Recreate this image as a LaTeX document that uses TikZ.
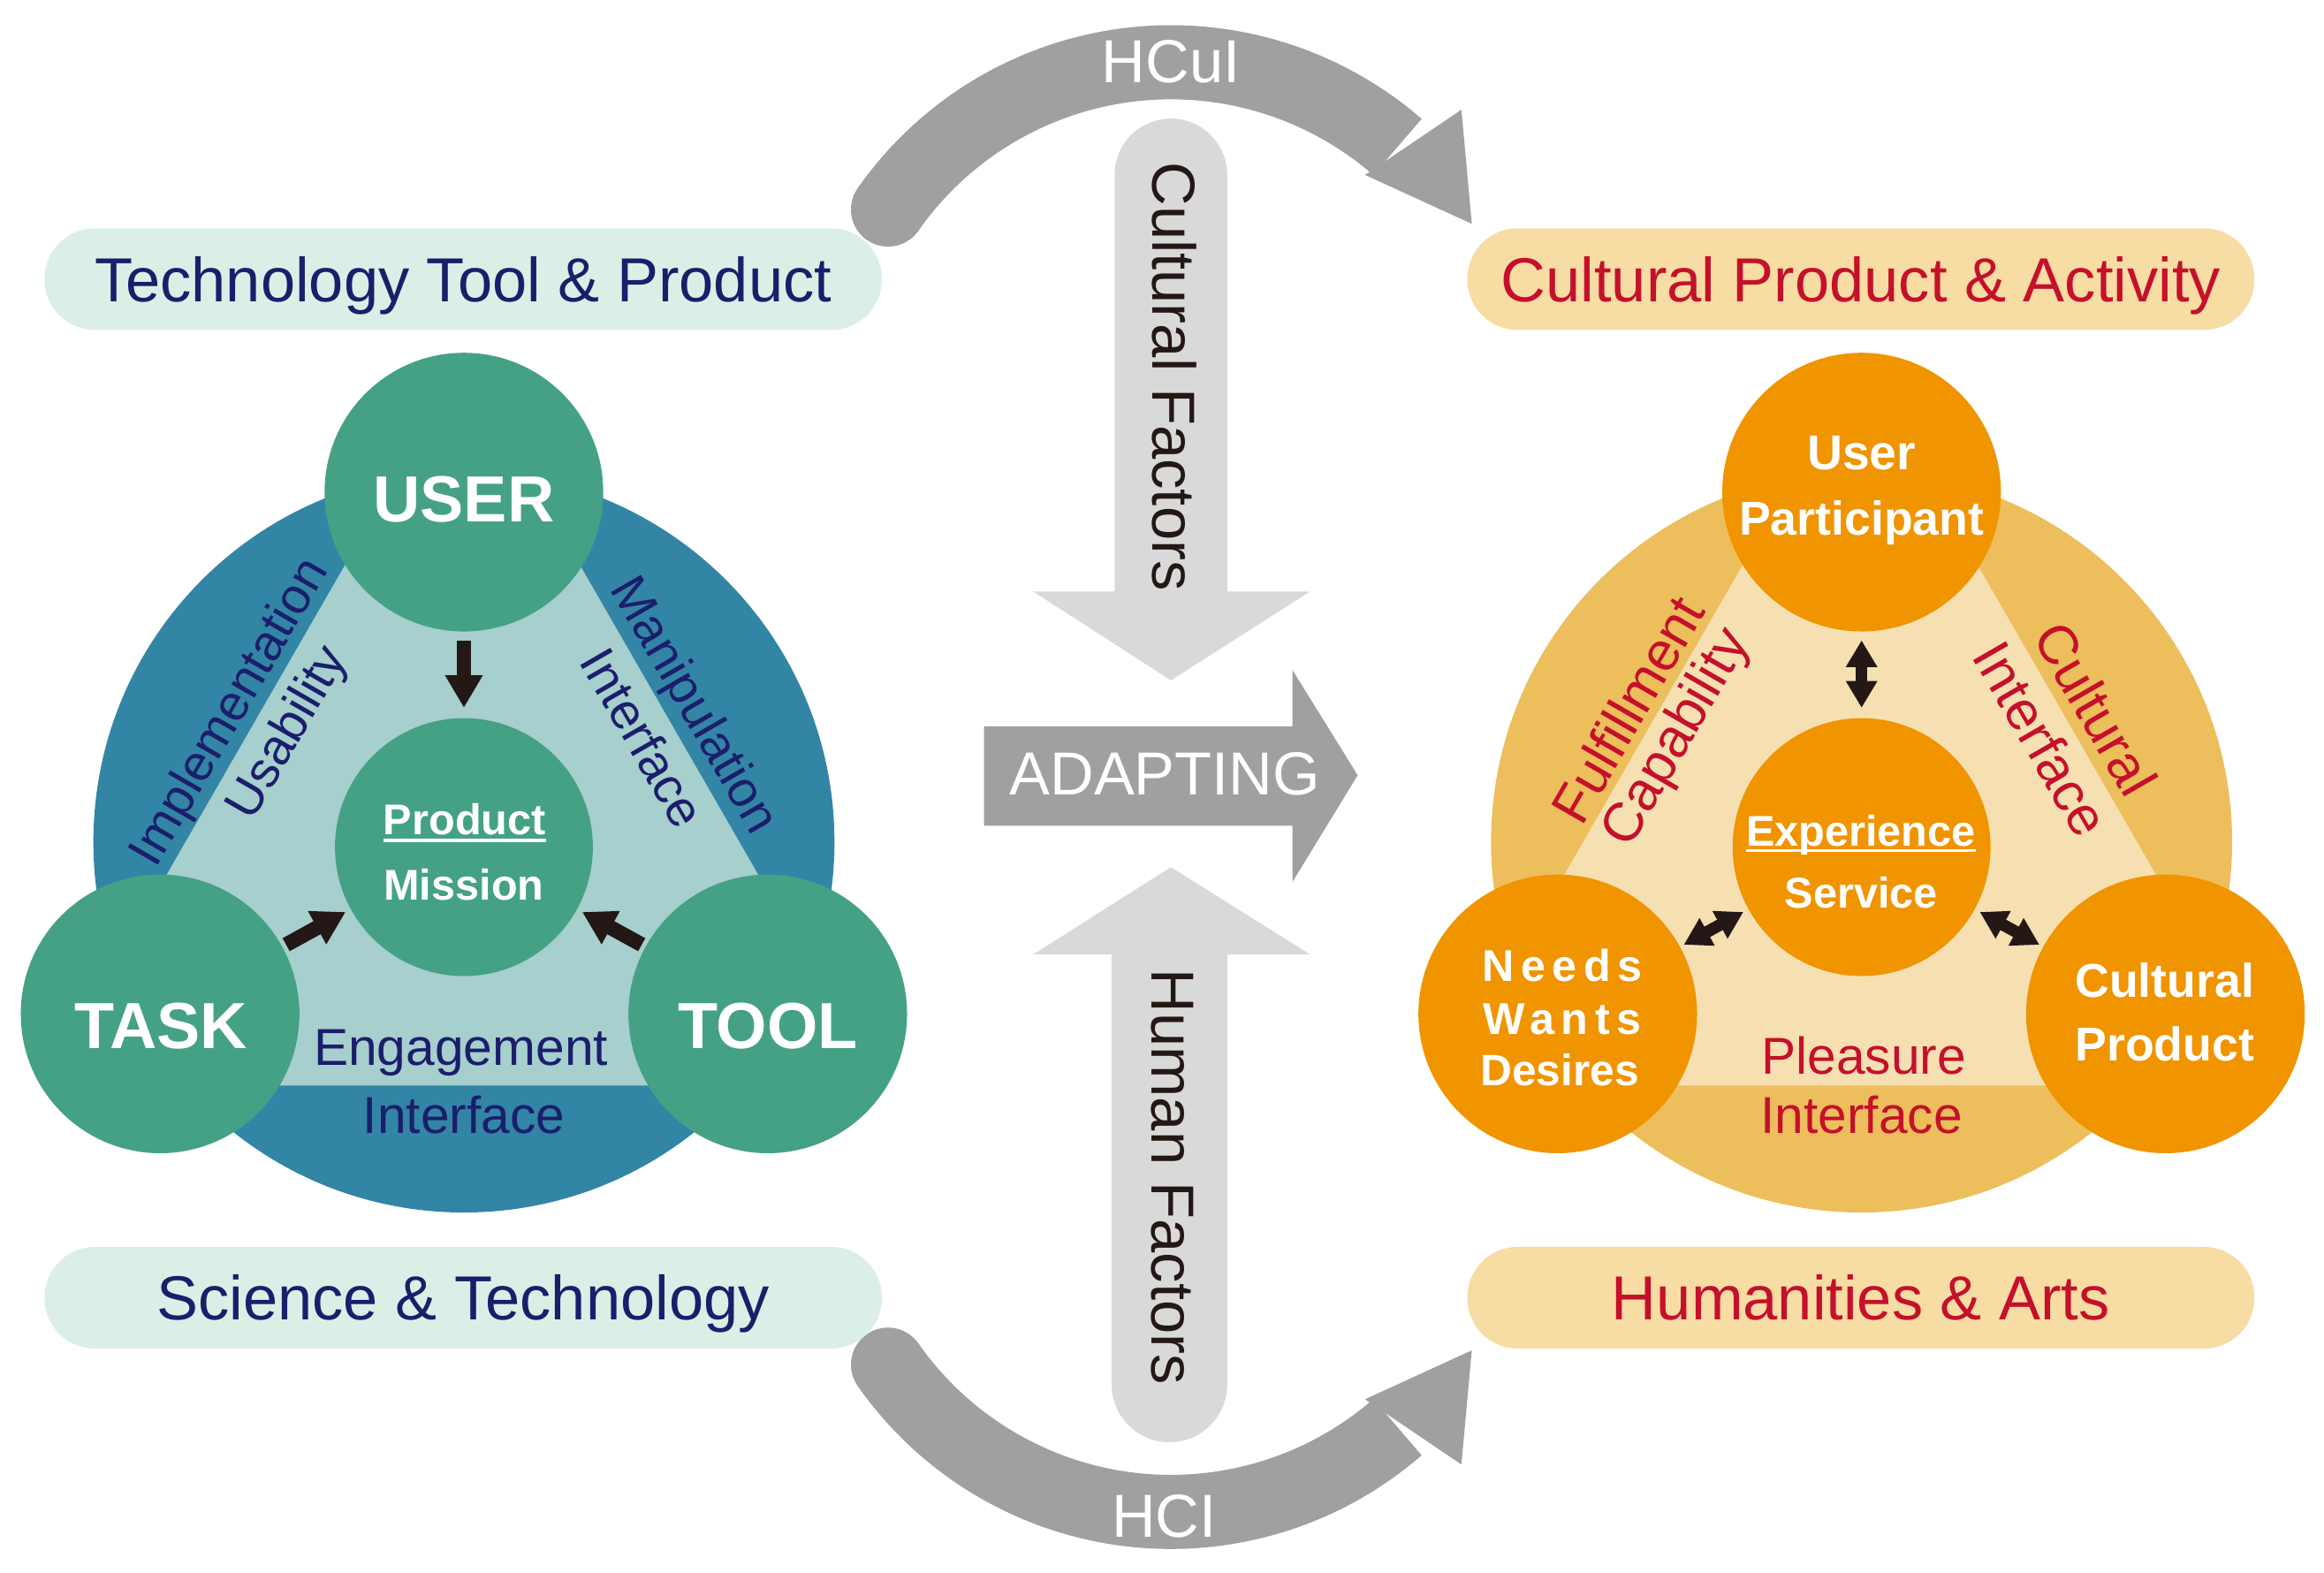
\documentclass[tikz,border=0pt]{standalone}
\usepackage{fontspec}
\setmainfont{Liberation Sans}
\usetikzlibrary{arrows.meta}
\definecolor{tealc}{HTML}{45A185}
\definecolor{bluec}{HTML}{3385A5}
\definecolor{tril}{HTML}{A6CFCD}
\definecolor{navy}{HTML}{1B1E6B}
\definecolor{mint}{HTML}{DCEFE7}
\definecolor{orng}{HTML}{F09400}
\definecolor{gold}{HTML}{EDBE5C}
\definecolor{peach}{HTML}{F6E0B2}
\definecolor{crim}{HTML}{C5102B}
\definecolor{pillr}{HTML}{F7DCA3}
\definecolor{gdark}{HTML}{A0A0A0}
\definecolor{glight}{HTML}{D9D9D9}
\definecolor{ink}{HTML}{231815}
\begin{document}
\begin{tikzpicture}[x=1pt,y=1pt,
  every node/.style={inner sep=0pt,outer sep=0pt},
  pill/.style={rectangle,rounded corners=34pt,minimum height=68.6pt,
    font=\fontsize{42}{50}\selectfont,text height=30.1pt,text depth=0pt},
  ring/.style={circle,minimum size=500pt},
  bigc/.style={circle,minimum size=188pt},
  cenc/.style={circle,minimum size=174pt},
  bigw/.style={text=white,font=\bfseries\fontsize{44}{50}\selectfont,anchor=base},
  midw/.style={text=white,font=\bfseries\fontsize{29}{34}\selectfont,anchor=base},
  rw/.style={text=white,font=\bfseries\fontsize{32}{36}\selectfont,anchor=base},
  navlab/.style={text=navy,font=\fontsize{34}{40}\selectfont},
  redlab/.style={text=crim,font=\fontsize{37}{42}\selectfont},
  hlab/.style={font=\fontsize{35}{40}\selectfont,anchor=base},
  gtext/.style={font=\fontsize{41}{48}\selectfont},
  darr/.style={draw=ink,line width=10pt,-{Triangle[width=24pt,length=22pt]}},
  dbl/.style={draw=ink,line width=8pt,{Triangle[width=20pt,length=18pt]}-{Triangle[width=20pt,length=18pt]}},
  band/.style={draw=gdark,line width=50pt}
]
\useasboundingbox (0,0) rectangle (1568,-1061);

% ---------- gray middle arrows ----------
\draw[band] ([shift={(790,-275)}]145:233pt) arc[start angle=145,end angle=49,radius=233pt];
\fill[gdark] ([shift={(790,-275)}]145:233pt) circle[radius=25pt];
\fill[gdark] (921,-118) -- (986,-74) -- (993,-151) -- cycle;
\node[gtext,text=white,anchor=base] (hcui) at (790,-56) {HCuI};

\draw[band] ([shift={(790,-787)}]-145:233pt) arc[start angle=-145,end angle=-49,radius=233pt];
\fill[gdark] ([shift={(790,-787)}]-145:233pt) circle[radius=25pt];
\fill[gdark] (921,-944) -- (986,-988) -- (993,-911) -- cycle;
\node[gtext,text=white,anchor=base] (hci) at (785.5,-1037) {HCI};

\fill[glight] (752,-399) -- (752,-118) arc[start angle=180,end angle=0,radius=38pt]
  -- (828,-399) -- (884,-399) -- (790,-459) -- (697,-399) -- cycle;
\node[gtext,text=ink,rotate=-90,anchor=base] (cf) at (778,-254) {Cultural Factors};

\fill[glight] (790,-585) -- (884,-644) -- (828,-644) -- (828,-934)
  arc[start angle=0,end angle=-180,radius=39pt] -- (750,-644) -- (697,-644) -- cycle;
\node[gtext,text=ink,rotate=-90,anchor=base] (hf) at (777,-794) {Human Factors};

\fill[gdark] (664,-490) -- (872,-490) -- (872,-452) -- (916,-523) -- (872,-595)
  -- (872,-557) -- (664,-557) -- cycle;
\node[gtext,text=white,anchor=base] (adapt) at (786,-536.5) {ADAPTING};

% ---------- pills ----------
\node[pill,fill=mint,text=navy,minimum width=565pt] (ttp) at (312.5,-188.3) {Technology Tool \& Product};
\node[pill,fill=mint,text=navy,minimum width=565pt] (st) at (312.5,-875.5) {Science \& Technology};
\node[pill,fill=pillr,text=crim,minimum width=531pt] (cpa) at (1255.5,-188.3) {Cultural Product \& Activity};
\node[pill,fill=pillr,text=crim,minimum width=531pt] (ha) at (1255.5,-875.5) {Humanities \& Arts};

% ---------- left diagram ----------
\node[ring,fill=bluec] (lring) at (313,-568) {};
\fill[tril] (312,-243.6) -- (30.5,-732.4) -- (593.5,-732.4) -- cycle;
\node[navlab,rotate=60] (impl) at (156,-481) {Implementation};
\node[navlab,rotate=60] (usab) at (195,-495) {Usability};
\node[navlab,rotate=-60] (manip) at (467,-476.5) {Manipulation};
\node[navlab,rotate=-60] (intf1) at (434,-497.5) {Interface};
\node[hlab,text=navy] (eng) at (311,-719) {Engagement};
\node[hlab,text=navy] (intf2) at (313,-764.5) {Interface};

\node[bigc,fill=tealc] (user) at (313,-332) {};
\node[bigc,fill=tealc] (task) at (108,-684) {};
\node[bigc,fill=tealc] (tool) at (518,-684) {};
\node[cenc,fill=tealc] (pm) at (313,-571.5) {};

\draw[darr,shorten <=6pt,shorten >=7pt] (user) -- (pm);
\draw[darr,shorten <=3pt,shorten >=4pt] (task) -- (pm);
\draw[darr,shorten <=3pt,shorten >=4pt] (tool) -- (pm);

\node[bigw] (usert) at (313,-352) {USER};
\node[bigw] (taskt) at (108.8,-707.5) {TASK};
\node[bigw] (toolt) at (518,-707.5) {TOOL};
\node[midw] (prodt) at (313.5,-562.8) {Product};
\draw[white,line width=2.2pt] ([yshift=-4pt]prodt.base west) -- ([yshift=-4pt]prodt.base east);
\node[midw] (misst) at (313,-607) {Mission};

% ---------- right diagram ----------
\node[ring,fill=gold] (rring) at (1256,-568) {};
\fill[peach] (1255,-243.6) -- (973.5,-732.4) -- (1536.5,-732.4) -- cycle;
\node[redlab,rotate=60] (fulf) at (1098,-478.5) {Fulfillment};
\node[redlab,rotate=60] (capa) at (1132,-498) {Capability};
\node[redlab,rotate=-60] (cult) at (1414,-478) {Cultural};
\node[redlab,rotate=-60] (intf3) at (1377.5,-498.5) {Interface};
\node[hlab,text=crim] (plea) at (1257.5,-724.8) {Pleasure};
\node[hlab,text=crim] (intf4) at (1256,-764.7) {Interface};

\node[bigc,fill=orng] (up) at (1256,-332) {};
\node[bigc,fill=orng] (needs) at (1051,-684) {};
\node[bigc,fill=orng] (cprod) at (1461,-684) {};
\node[cenc,fill=orng] (es) at (1256,-571.5) {};

\draw[dbl,shorten <=6pt,shorten >=7pt] (up) -- (es);
\draw[dbl,shorten <=3pt,shorten >=4pt] (needs) -- (es);
\draw[dbl,shorten <=3pt,shorten >=4pt] (cprod) -- (es);

\node[text=white,font=\bfseries\fontsize{33}{36}\selectfont,anchor=base] (usr2) at (1256,-317) {User};
\node[rw] (part) at (1256,-361) {Participant};
\node[midw] (expt) at (1255.6,-570.8) {Experience};
\draw[white,line width=2.2pt] ([yshift=-3pt]expt.base west) -- ([yshift=-3pt]expt.base east);
\node[midw] (serv) at (1255.7,-612.6) {Service};
\node[text=white,font=\bfseries\fontsize{30}{34}\selectfont\addfontfeatures{LetterSpace=15},anchor=base] (nd) at (1054,-662) {Needs};
\node[text=white,font=\bfseries\fontsize{30}{34}\selectfont\addfontfeatures{LetterSpace=15},anchor=base] (wt) at (1054,-698) {Wants};
\node[text=white,font=\bfseries\fontsize{29.6}{34}\selectfont,anchor=base] (ds) at (1052.4,-732.4) {Desires};
\node[rw] (cul2) at (1460.5,-672.5) {Cultural};
\node[rw] (prod2) at (1460.5,-716) {Product};
\end{tikzpicture}
\end{document}
